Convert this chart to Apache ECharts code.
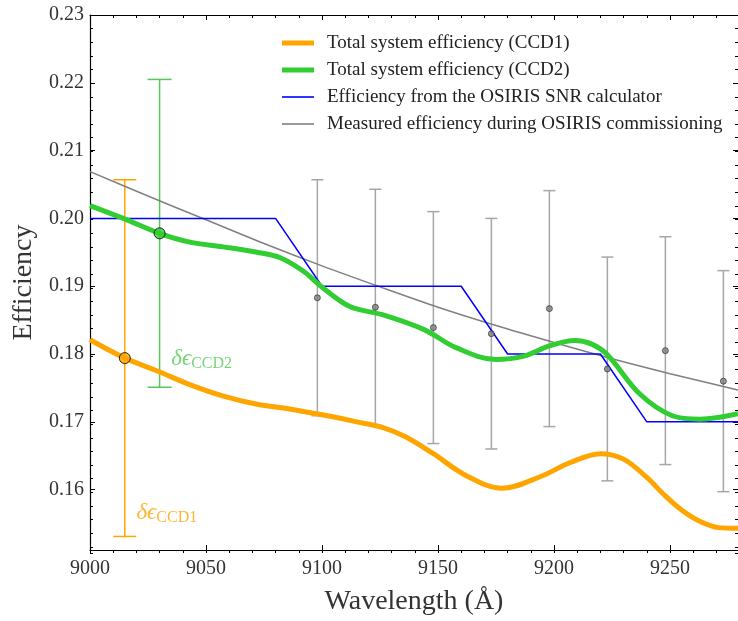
<!DOCTYPE html>
<html><head><meta charset="utf-8">
<script src="https://cdn.jsdelivr.net/npm/echarts@6/dist/echarts.min.js"></script>
<style>html,body{margin:0;padding:0;background:#fff}#c{width:738px;height:621px}</style>
</head><body><div id="c"></div>
<script>
// ---- data ----
const ccd1Wave = [9000, 9015, 9029, 9043, 9057.5, 9072, 9086, 9100.6, 9115, 9126, 9136, 9148, 9162, 9177.5, 9194, 9207, 9220, 9230, 9240, 9247, 9255, 9263, 9271, 9279.3];
const ccd1Eff  = [0.1821, 0.1794, 0.1775, 0.1755, 0.1738, 0.1726, 0.1719, 0.1710, 0.1700, 0.1692, 0.1678, 0.1653, 0.1621, 0.1602, 0.1619, 0.1640, 0.1653, 0.1645, 0.1618, 0.1594, 0.1570, 0.1553, 0.1544, 0.1543];
const ccd2Wave = [9000, 9014.4, 9030, 9043, 9057.5, 9072, 9082, 9092, 9100.6, 9112, 9126, 9144, 9158, 9175, 9187, 9198, 9209, 9216, 9223, 9237, 9251, 9263, 9279.3];
const ccd2Eff  = [0.2019, 0.2000, 0.1978, 0.1965, 0.1958, 0.1950, 0.1942, 0.1922, 0.1897, 0.1870, 0.1858, 0.1836, 0.1809, 0.1792, 0.1797, 0.1812, 0.1820, 0.1815, 0.1799, 0.1741, 0.1709, 0.1704, 0.1712];
const snrWave  = [9000, 9080, 9100, 9160, 9180, 9220, 9240, 9279.3];
const snrEff   = [0.200, 0.200, 0.190, 0.190, 0.180, 0.180, 0.170, 0.170];
const commWave = [9000, 9025, 9050, 9075, 9100, 9125, 9150, 9175, 9200, 9225, 9250, 9279.3];
const commEff  = [0.2069, 0.2033, 0.1998, 0.1963, 0.1930, 0.1899, 0.1869, 0.1842, 0.1817, 0.1793, 0.1771, 0.1747];
const measWave = [9098, 9123, 9148, 9173, 9198, 9223, 9248, 9273];
const measEff  = [0.1883, 0.1869, 0.1839, 0.1830, 0.1867, 0.1778, 0.1805, 0.1760];
const measErr  = [0.0174, 0.0174, 0.0171, 0.0170, 0.0174, 0.0165, 0.0168, 0.0163];
const ccd1Point = [9015, 0.1794, 0.0263];
const ccd2Point = [9030, 0.1978, 0.0227];
const ccd1LabelPos = [9020, 0.1566];
const ccd2LabelPos = [9035, 0.1793];
const names = ['Total system efficiency (CCD1)', 'Total system efficiency (CCD2)',
               'Efficiency from the OSIRIS SNR calculator', 'Measured efficiency during OSIRIS commissioning'];
const X_MIN = 9000, X_MAX = 9279.3, Y_MIN = 0.1511, Y_MAX = 0.23;

const zip = (a, b) => a.map((v, i) => [v, b[i]]);
const FONT = "'Liberation Serif', 'DejaVu Serif', serif";

function errRender(capW, color, lw) {
  return function (params, api) {
    const x = api.value(0), y = api.value(1), e = api.value(2);
    const t = api.coord([x, y + e]), b = api.coord([x, y - e]);
    const style = { stroke: color, lineWidth: lw, fill: null };
    return { type: 'group', children: [
      { type: 'line', shape: { x1: t[0], y1: t[1], x2: b[0], y2: b[1] }, style },
      { type: 'line', shape: { x1: t[0] - capW / 2, y1: t[1], x2: t[0] + capW / 2, y2: t[1] }, style },
      { type: 'line', shape: { x1: b[0] - capW / 2, y1: b[1], x2: b[0] + capW / 2, y2: b[1] }, style }
    ]};
  };
}

const axLine = { show: true, lineStyle: { color: '#000', width: 1.2 } };
const gridRect = { left: 90, right: 0, top: 15, bottom: 68 };
function xAx(grid, pos, split, len, labels) {
  return { type: 'value', gridIndex: grid, position: pos, min: X_MIN, max: X_MAX, splitNumber: split,
    axisLine: grid === 0 ? axLine : { show: false },
    axisTick: { show: true, inside: true, length: len, lineStyle: { color: '#000', width: 1 } },
    splitLine: { show: false },
    axisLabel: labels ? { show: true, margin: 9, fontFamily: FONT, fontSize: 20, color: '#333',
      showMaxLabel: false, formatter: v => String(v) } : { show: false },
    name: labels ? 'Wavelength (Å)' : '', nameLocation: 'middle', nameGap: 38,
    nameTextStyle: { fontFamily: FONT, fontSize: 28, color: '#333' } };
}
function yAx(grid, pos, split, len, labels) {
  return { type: 'value', gridIndex: grid, position: pos, min: Y_MIN, max: Y_MAX, splitNumber: split,
    axisLine: (grid === 0 && pos === 'left') ? axLine : { show: false },
    axisTick: { show: true, inside: true, length: len, lineStyle: { color: '#000', width: 1 } },
    splitLine: { show: false },
    axisLabel: labels ? { show: true, margin: 6, fontFamily: FONT, fontSize: 20, color: '#333',
      showMinLabel: false, formatter: v => v.toFixed(2) } : { show: false },
    name: labels ? 'Efficiency' : '', nameLocation: 'middle', nameGap: 46, nameRotate: 90,
    nameTextStyle: { fontFamily: FONT, fontSize: 28, color: '#333' } };
}

const thick = 'path://M0,0H32V5H0Z';
const thin = 'path://M0,0H32V1.6H0Z';

const chart = echarts.init(document.getElementById('c'), null, { renderer: 'canvas' });
chart.setOption({
  animation: false,
  backgroundColor: '#fff',
  grid: [Object.assign({}, gridRect), Object.assign({}, gridRect)],
  xAxis: [xAx(0, 'bottom', 6, 5, true), xAx(0, 'top', 6, 5, false), xAx(1, 'bottom', 28, 3, false), xAx(1, 'top', 28, 3, false)],
  yAxis: [yAx(0, 'left', 8, 5, true), yAx(0, 'right', 8, 5, false), yAx(1, 'left', 40, 3, false), yAx(1, 'right', 40, 3, false)],
  legend: {
    orient: 'vertical', left: 277, top: 28, itemWidth: 32, itemHeight: 14, itemGap: 7,
    data: [
      { name: names[0], icon: thick }, { name: names[1], icon: thick },
      { name: names[2], icon: thin }, { name: names[3], icon: thin }
    ],
    textStyle: { fontFamily: FONT, fontSize: 19, color: '#222', lineHeight: 20, padding: [0, 0, 0, 8] }
  },
  series: [
    { type: 'custom', name: 'measErr', renderItem: errRender(12, '#a6a6a6', 1.5), z: 1,
      encode: { x: 0, y: 1 }, data: measWave.map((w, i) => [w, measEff[i], measErr[i]]) },
    { type: 'custom', name: 'ccd1Err', renderItem: errRender(23, '#ffa500', 1.5), z: 1,
      encode: { x: 0, y: 1 }, data: [ccd1Point] },
    { type: 'custom', name: 'ccd2Err', renderItem: errRender(24, '#55c855', 1.5), z: 1,
      encode: { x: 0, y: 1 }, data: [ccd2Point] },
    { type: 'line', name: names[3], data: zip(commWave, commEff), smooth: 0.3, symbol: 'none', z: 2,
      lineStyle: { color: '#808080', width: 1.5 }, itemStyle: { color: '#808080' } },
    { type: 'line', name: names[2], data: zip(snrWave, snrEff), smooth: false, symbol: 'none', z: 2,
      lineStyle: { color: '#0000ff', width: 1.5 }, itemStyle: { color: '#0000ff' } },
    { type: 'line', name: names[1], data: zip(ccd2Wave, ccd2Eff), smooth: 0.35, symbol: 'none', z: 3,
      lineStyle: { color: '#32cd32', width: 5 }, itemStyle: { color: '#32cd32' } },
    { type: 'line', name: names[0], data: zip(ccd1Wave, ccd1Eff), smooth: 0.35, symbol: 'none', z: 3,
      lineStyle: { color: '#ffa500', width: 5 }, itemStyle: { color: '#ffa500' } },
    { type: 'scatter', name: 'meas', data: zip(measWave, measEff), symbolSize: 6, z: 5,
      itemStyle: { color: '#808080', borderColor: '#222', borderWidth: 0.8 } },
    { type: 'scatter', name: 'ccd1pt', data: [[ccd1Point[0], ccd1Point[1]]], symbolSize: 11, z: 5,
      itemStyle: { color: '#ffa500', borderColor: '#000', borderWidth: 1 } },
    { type: 'scatter', name: 'ccd2pt', data: [[ccd2Point[0], ccd2Point[1]]], symbolSize: 11, z: 5,
      itemStyle: { color: '#32cd32', borderColor: '#000', borderWidth: 1 } },
    { type: 'scatter', name: 'lab1', data: [ccd1LabelPos], symbolSize: 0, z: 6, silent: true,
      label: { show: true, position: 'right', distance: 0, formatter: '{d|δϵ}{s|CCD1}',
        rich: { d: { fontFamily: FONT, fontStyle: 'italic', fontSize: 23, color: '#ffa500', lineHeight: 24 },
                s: { fontFamily: FONT, fontSize: 16, color: '#ffa500', lineHeight: 16, padding: [10, 0, 0, 0] } } } },
    { type: 'scatter', name: 'lab2', data: [ccd2LabelPos], symbolSize: 0, z: 6, silent: true,
      label: { show: true, position: 'right', distance: 0, formatter: '{d|δϵ}{s|CCD2}',
        rich: { d: { fontFamily: FONT, fontStyle: 'italic', fontSize: 23, color: '#55c855', lineHeight: 24 },
                s: { fontFamily: FONT, fontSize: 16, color: '#55c855', lineHeight: 16, padding: [10, 0, 0, 0] } } } }
  ]
});
</script></body></html>
